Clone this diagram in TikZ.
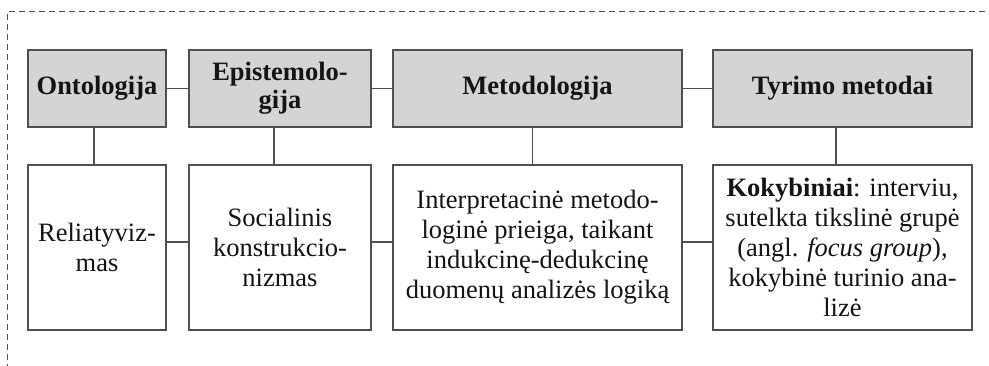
\documentclass[tikz,border=0pt]{standalone}
\usepackage{fontspec}
\setmainfont{Liberation Serif}
\usetikzlibrary{calc}
\definecolor{boxline}{HTML}{4F4F4F}
\definecolor{headfill}{HTML}{D3D4D6}
\definecolor{inktext}{HTML}{141414}
\tikzset{
  headbox/.style={draw=boxline, line width=1.2pt, fill=headfill, inner sep=0pt,
    minimum height=77pt, align=center, text=inktext,
    font=\fontsize{26.5}{28}\selectfont\bfseries},
  contentbox/.style={draw=boxline, line width=1.2pt, fill=white, inner sep=0pt,
    minimum height=165pt, align=center, text=inktext,
    font=\fontsize{26.5}{30}\selectfont},
  link/.style={draw=boxline, line width=1.2pt},
  frameline/.style={draw=boxline, line width=1pt, dash pattern=on 6pt off 4pt}
}
\begin{document}
\begin{tikzpicture}[x=1pt,y=-1pt]
  \useasboundingbox (0,0) rectangle (989,366);

  % dashed frame (top and left edges)
  \coordinate (fr-top) at (985,11.5);
  \coordinate (fr-corner) at (7.5,11.5);
  \coordinate (fr-bottom) at (7.5,366);
  \draw[frameline] (fr-top) -- (fr-corner) -- (fr-bottom);

  % header row
  \node[headbox, minimum width=138pt] (t1) at (97,88.5) {Ontologija};
  \node[headbox, minimum width=182pt] (t2) at (280,88.5) {Epistemolo-\\gija};
  \node[headbox, minimum width=289pt] (t3) at (537.5,88.5) {Metodologija};
  \node[headbox, minimum width=259pt] (t4) at (842.5,88.5) {Tyrimo metodai};

  % content row
  \node[contentbox, minimum width=138pt] (b1) at (97,247.5) {Reliatyviz-\\mas};
  \node[contentbox, minimum width=182pt] (b2) at (280,247.5) {Socialinis\\konstrukcio-\\nizmas};
  \node[contentbox, minimum width=289pt] (b3) at (537.5,247.5)
    {Interpretacinė metodo-\\loginė prieiga, taikant\\indukcinę-dedukcinę\\duomenų analizės logiką};
  \node[contentbox, minimum width=259pt] (b4) at (842.5,247.5)
    {\textbf{Kokybiniai}: interviu,\\sutelkta tikslinė grupė\\(angl. \textit{focus group}),\\kokybinė turinio ana-\\lizė};

  % horizontal links between headers
  \draw[link] (t1.east) -- (t2.west);
  \draw[link] (t2.east) -- (t3.west);
  \draw[link] (t3.east) -- (t4.west);

  % horizontal links between content boxes
  \draw[link] ([yshift=5.5pt]b1.east) -- ([yshift=5.5pt]b2.west);
  \draw[link] ([yshift=5.5pt]b2.east) -- ([yshift=5.5pt]b3.west);
  \draw[link] ([yshift=5.5pt]b3.east) -- ([yshift=5.5pt]b4.west);

  % vertical links header -> content
  \draw[link] ($(t1.south west)!0.478!(t1.south east)$) -- ($(b1.north west)!0.478!(b1.north east)$);
  \draw[link] ($(t2.south west)!0.467!(t2.south east)$) -- ($(b2.north west)!0.467!(b2.north east)$);
  \draw[link] ($(t3.south west)!0.484!(t3.south east)$) -- ($(b3.north west)!0.484!(b3.north east)$);
  \draw[link] ($(t4.south west)!0.475!(t4.south east)$) -- ($(b4.north west)!0.475!(b4.north east)$);
\end{tikzpicture}
\end{document}
